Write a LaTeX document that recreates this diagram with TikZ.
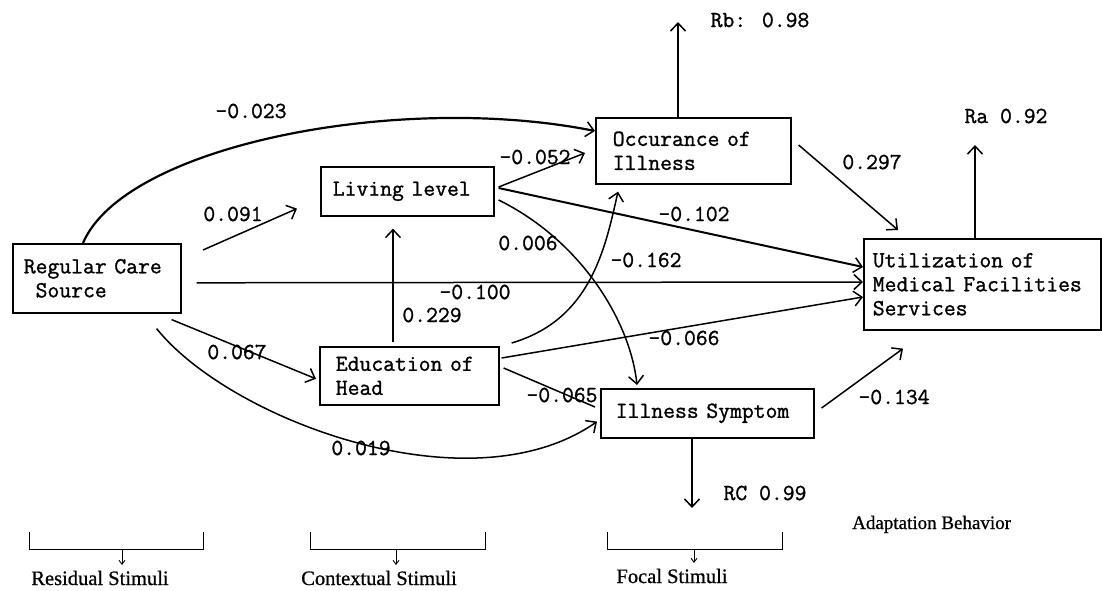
\documentclass[tikz,border=0pt]{standalone}
\usepackage{fontspec}
\setmainfont{Liberation Serif}
\newfontfamily\typewfam{Latin Modern Mono}[FakeBold=1.2]
\newfontfamily\serifheavy{Liberation Serif}[FakeBold=0.8]
\usetikzlibrary{arrows.meta,calc}
\newcommand\mytt{\typewfam\fontsize{23}{24}\selectfont}
\newcommand\myserif{\serifheavy\fontsize{20.5}{22}\selectfont}
\begin{document}
\begin{tikzpicture}[x=1pt,y=-1pt,
  box/.style={draw,line width=1.6pt,rectangle,anchor=north west,align=left,font=\mytt,inner ysep=0pt},
  lab/.style={font=\mytt,inner sep=0pt},
  captext/.style={font=\myserif,inner sep=0pt,anchor=base},
  conn/.style={line width=1.5pt,-{Straight Barb[length=8pt,width=15pt,line width=1.5pt]}},
  plain/.style={line width=1.5pt},
  brk/.style={line width=1pt},
  small/.style={line width=0.9pt,-{Straight Barb[length=4pt,width=6pt,line width=0.9pt]}}]
\useasboundingbox (0,0) rectangle (1102,590);

% boxes
\node[box,minimum width=168pt,minimum height=69pt,text width=146pt,inner xsep=11pt] (rcs) at (12,243) {Regular Care\\\phantom{R}Source};
\node[box,minimum width=173pt,minimum height=49pt,text width=149pt,inner xsep=12pt] (liv) at (320,166) {Living level};
\node[box,minimum width=195pt,minimum height=66pt,text width=161pt,inner xsep=17pt] (occ) at (595,117) {Occurance of\\Illness};
\node[box,minimum width=237pt,minimum height=91pt,text width=219pt,inner xsep=9pt] (util) at (863,238) {Utilization of\\Medical Facilities\\Services};
\node[box,minimum width=179pt,minimum height=58pt,text width=147pt,inner xsep=16pt] (edu) at (319,346) {Education of\\Head};
\node[box,minimum width=213pt,minimum height=49pt,text width=183pt,inner xsep=15pt] (ill) at (600,388) {Illness Symptom};

% free ends
\coordinate (s091) at (203,250);
\coordinate (rbtop) at (678,22);
\coordinate (ratop) at (975,145);
\coordinate (rcbot) at (692,508);

% connectors
\draw[conn,line width=2.2pt] ($(rcs.north west)+(71,0)$) .. controls (125,145) and (400,92) .. ($(occ.north west)+(0,14)$);
\draw[conn] (s091) -- ($(liv.south west)+(-23,-8)$);
\draw[conn] ($(rcs.east)+(15,4.5)$) -- ($(util.north west)+(0,44)$);
\draw[conn] ($(rcs.south east)+(-10,6)$) -- ($(edu.west)+(-3,3)$);
\draw[conn] ($(rcs.south east)+(-25,15)$) .. controls (230,420) and (470,510) .. ($(ill.south west)+(-3,-17)$);
\draw[conn] ($(edu.north west)+(74,-4)$) -- ($(liv.south west)+(73,12)$);
\draw[conn] ($(liv.north east)+(4,21)$) -- ($(occ.north west)+(-10,36)$);
\draw[conn,line width=2pt] ($(liv.north east)+(4,22)$) -- ($(util.north west)+(0,29)$);
\draw[conn] ($(liv.north east)+(4,34)$) .. controls (580,240) and (630,320) .. ($(ill.north west)+(37,-3)$);
\draw[conn] ($(edu.north east)+(12,-3)$) .. controls (590,320) and (605,250) .. ($(occ.south west)+(23,7)$);
\draw[conn] ($(edu.north east)+(2,12)$) -- ($(util.north west)+(0,59)$);
\draw[plain] ($(edu.north east)+(4,22)$) -- ($(ill.north west)+(-5,19)$);
\draw[conn] ($(ill.north east)+(7,20)$) -- ($(util.south west)+(40,18)$);
\draw[conn] ($(occ.north east)+(7,28)$) -- ($(util.north west)+(35,-8)$);
\draw[conn] ($(occ.north west)+(83,0)$) -- (rbtop);
\draw[conn] ($(util.north west)+(112,0)$) -- (ratop);
\draw[conn] ($(ill.south west)+(92,0)$) -- (rcbot);

% path labels
\node[lab] (l023) at (251,111) {-0.023};
\node[lab] (l091) at (233,214) {0.091};
\node[lab] (l052) at (535,157) {-0.052};
\node[lab] (l006) at (528,243) {0.006};
\node[lab] (l102) at (694,214) {-0.102};
\node[lab] (l162) at (646,260) {-0.162};
\node[lab] (l100) at (475,292) {-0.100};
\node[lab] (l229) at (432,315) {0.229};
\node[lab] (l066) at (684,338) {-0.066};
\node[lab] (l067) at (237,352) {0.067};
\node[lab] (l065) at (562,395) {-0.065};
\node[lab] (l019) at (361,448) {0.019};
\node[lab] (l297) at (872,162) {0.297};
\node[lab] (lra) at (1006,116) {Ra 0.92};
\node[lab] (lrb) at (760,20) {Rb: 0.98};
\node[lab] (l134) at (894,397) {-0.134};
\node[lab] (lrc) at (765,493) {RC 0.99};

% bottom stimuli
\draw[brk] (29,532) |- (203,549) -- (203,532);
\draw[brk] (310,532) |- (485,549) -- (485,532);
\draw[brk] (607,532) |- (782,549) -- (782,532);
\node[captext] (res) at (100,585) {Residual Stimuli};
\node[captext] (ctx) at (379,585) {Contextual Stimuli};
\node[captext] (foc) at (672,583) {Focal Stimuli};
\node[captext,anchor=base west,font=\serifheavy\fontsize{19}{21}\selectfont] (ada) at (852,529) {Adaptation Behavior};
\coordinate (bres) at (122,549);
\coordinate (bctx) at (396,549);
\coordinate (bfoc) at (694,549);
\draw[small] (bres) -- ++(0,16);
\draw[small] (bctx) -- ++(0,16);
\draw[small] (bfoc) -- ++(0,14);
\end{tikzpicture}
\end{document}
